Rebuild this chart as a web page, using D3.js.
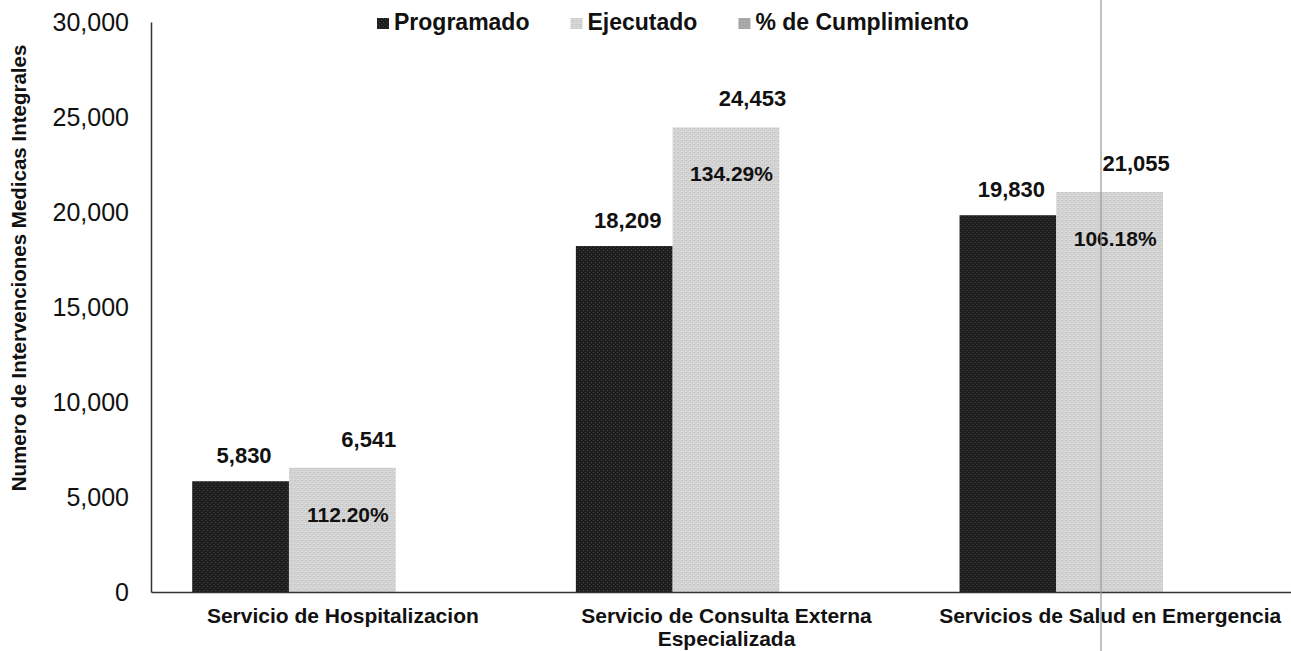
<!DOCTYPE html>
<html>
<head>
<meta charset="utf-8">
<script src="https://cdn.jsdelivr.net/npm/d3@7"></script>
<style>
  body { margin: 0; background: #fff; }
  svg { display: block; font-family: "Liberation Sans", Arial, sans-serif; }
</style>
</head>
<body>
<div id="app"></div>
<script>
const WIDTH = 1291;
const HEIGHT = 651;

// chart values
const categories = [
  'Servicio de Hospitalizacion',
  'Servicio de Consulta Externa Especializada',
  'Servicios de Salud en Emergencia'
];
const seriesNames = ['Programado', 'Ejecutado', '% de Cumplimiento'];
const programado = [5830, 18209, 19830];
const ejecutado = [6541, 24453, 21055];
const cumplimiento = [112.20, 134.29, 106.18];
const yTicks = [0, 5000, 10000, 15000, 20000, 25000, 30000];

const rows = categories.map((c, i) => ({
  cat: c, prog: programado[i], ejec: ejecutado[i], pct: cumplimiento[i]
}));

const svg = d3.select('#app')
  .append('svg')
    .attr('width', WIDTH)
    .attr('height', HEIGHT);

// grainy fills, like the printed scan
const defs = svg.append('defs');
const dark = defs.append('pattern')
  .attr('id', 'darkTex').attr('width', 4).attr('height', 4)
  .attr('patternUnits', 'userSpaceOnUse');
dark.append('rect').attr('width', 4).attr('height', 4).attr('fill', '#1e1e1e');
dark.append('rect').attr('x', 0).attr('y', 0).attr('width', 1).attr('height', 1).attr('fill', '#3d3d3d');
dark.append('rect').attr('x', 2).attr('y', 2).attr('width', 1).attr('height', 1).attr('fill', '#454545');

const light = defs.append('pattern')
  .attr('id', 'lightTex').attr('width', 4).attr('height', 4)
  .attr('patternUnits', 'userSpaceOnUse');
light.append('rect').attr('width', 4).attr('height', 4).attr('fill', '#d4d4d4');
light.append('rect').attr('x', 1).attr('y', 0).attr('width', 1).attr('height', 1).attr('fill', '#bababa');
light.append('rect').attr('x', 3).attr('y', 2).attr('width', 1).attr('height', 1).attr('fill', '#c2c2c2');
light.append('rect').attr('x', 0).attr('y', 3).attr('width', 1).attr('height', 1).attr('fill', '#e4e4e4');

const mid = defs.append('pattern')
  .attr('id', 'midTex').attr('width', 3).attr('height', 3)
  .attr('patternUnits', 'userSpaceOnUse');
mid.append('rect').attr('width', 3).attr('height', 3).attr('fill', '#ababab');
mid.append('rect').attr('x', 1).attr('y', 1).attr('width', 1).attr('height', 1).attr('fill', '#8e8e8e');

const fills = ['url(#darkTex)', 'url(#lightTex)', 'url(#midTex)'];

const x0 = 151, x1 = 1302, yTop = 22, yBase = 592;

const x = d3.scaleBand()
  .domain(categories)
  .range([x0, x1])
  .paddingInner(0.22)
  .paddingOuter(0.11);

// third slot belongs to the % series, which sits at ~1 on this axis
const xs = d3.scaleBand()
  .domain(seriesNames)
  .range([0, x.bandwidth()]);

const y = d3.scaleLinear()
  .domain([0, 30000])
  .range([yBase, yTop]);

// y axis
const yAxis = svg.append('g')
  .attr('transform', `translate(${x0},0)`)
  .call(d3.axisLeft(y).tickValues(yTicks).tickFormat(d3.format(',')).tickSize(0).tickSizeOuter(0).tickPadding(22));
yAxis.select('.domain').attr('stroke', '#333').attr('stroke-width', 1.5);
yAxis.selectAll('text')
  .attr('font-size', 25)
  .attr('font-family', '"Liberation Sans", Arial, sans-serif')
  .attr('fill', '#111');

svg.append('text')
  .attr('transform', `translate(26,268) rotate(-90)`)
  .attr('text-anchor', 'middle')
  .attr('font-size', 20.5)
  .attr('font-weight', 'bold')
  .attr('fill', '#111')
  .text('Numero de Intervenciones Medicas Integrales');

// bars
const groups = svg.selectAll('g.cat')
  .data(rows)
  .enter()
  .append('g')
    .attr('class', 'cat')
    .attr('transform', d => `translate(${x(d.cat)},0)`);

groups.append('rect')
  .attr('x', xs('Programado') - 1)
  .attr('y', d => y(d.prog))
  .attr('width', xs.bandwidth() - 3)
  .attr('height', d => yBase - y(d.prog))
  .attr('fill', fills[0]);

groups.append('rect')
  .attr('x', xs('Ejecutado') - 4)
  .attr('y', d => y(d.ejec))
  .attr('width', xs.bandwidth() + 7)
  .attr('height', d => yBase - y(d.ejec))
  .attr('fill', fills[1]);

// x axis
const xAxis = svg.append('g')
  .attr('transform', `translate(0,${yBase})`)
  .call(d3.axisBottom(x).tickSize(0).tickSizeOuter(0).tickPadding(16));
xAxis.select('.domain').attr('stroke', '#333').attr('stroke-width', 1.5);
xAxis.selectAll('text')
  .attr('font-size', 21)
  .attr('font-weight', 'bold')
  .attr('font-family', '"Liberation Sans", Arial, sans-serif')
  .attr('fill', '#111')
  .call(wrap, x.step() - 20);

function wrap(texts, width) {
  texts.each(function() {
    const text = d3.select(this);
    const words = text.text().split(/\s+/);
    const yPos = text.attr('y');
    const dy = parseFloat(text.attr('dy'));
    let line = [];
    let lineNo = 0;
    let tspan = text.text(null).append('tspan').attr('x', 0).attr('y', yPos).attr('dy', dy + 'em');
    words.forEach(w => {
      line.push(w);
      tspan.text(line.join(' '));
      if (tspan.node().getComputedTextLength() > width && line.length > 1) {
        line.pop();
        tspan.text(line.join(' '));
        line = [w];
        lineNo++;
        tspan = text.append('tspan').attr('x', 0).attr('y', yPos)
          .attr('dy', (lineNo * 1.12 + dy) + 'em').text(w);
      }
    });
  });
}

// data labels
const fmt = d3.format(',');
groups.append('text')
  .attr('x', xs('Programado') + xs.bandwidth() / 2 + 1)
  .attr('y', d => y(d.prog) - 18)
  .attr('text-anchor', 'middle')
  .attr('font-size', 22)
  .attr('font-weight', 'bold')
  .attr('fill', '#111')
  .text(d => fmt(d.prog));

groups.append('text')
  .attr('x', xs('Ejecutado') + xs.bandwidth() / 2 + 26)
  .attr('y', d => y(d.ejec) - 21)
  .attr('text-anchor', 'middle')
  .attr('font-size', 22)
  .attr('font-weight', 'bold')
  .attr('fill', '#111')
  .text(d => fmt(d.ejec));

groups.append('text')
  .attr('x', xs('Ejecutado') + xs.bandwidth() / 2 + 5)
  .attr('y', d => y(d.ejec) + 54)
  .attr('text-anchor', 'middle')
  .attr('font-size', 21)
  .attr('font-weight', 'bold')
  .attr('fill', '#111')
  .text(d => d3.format('.2f')(d.pct) + '%');

// legend
const legend = svg.append('g').attr('transform', 'translate(377,0)');
let lx = 0;
seriesNames.forEach((name, i) => {
  const item = legend.append('g').attr('transform', `translate(${lx},0)`);
  item.append('rect')
    .attr('x', 0).attr('y', 18)
    .attr('width', 12).attr('height', 11)
    .attr('fill', fills[i]);
  const t = item.append('text')
    .attr('x', 17).attr('y', 30)
    .attr('font-size', 23)
    .attr('font-weight', 'bold')
    .attr('fill', '#111')
    .text(name);
  lx += 17 + t.node().getComputedTextLength() + 41;
});

// faint vertical crease across the scan
svg.append('line')
  .attr('x1', 1101).attr('x2', 1101)
  .attr('y1', 0).attr('y2', HEIGHT)
  .attr('stroke', '#9a9a9a')
  .attr('stroke-opacity', 0.8)
  .attr('stroke-width', 1.5);
</script>
</body>
</html>
